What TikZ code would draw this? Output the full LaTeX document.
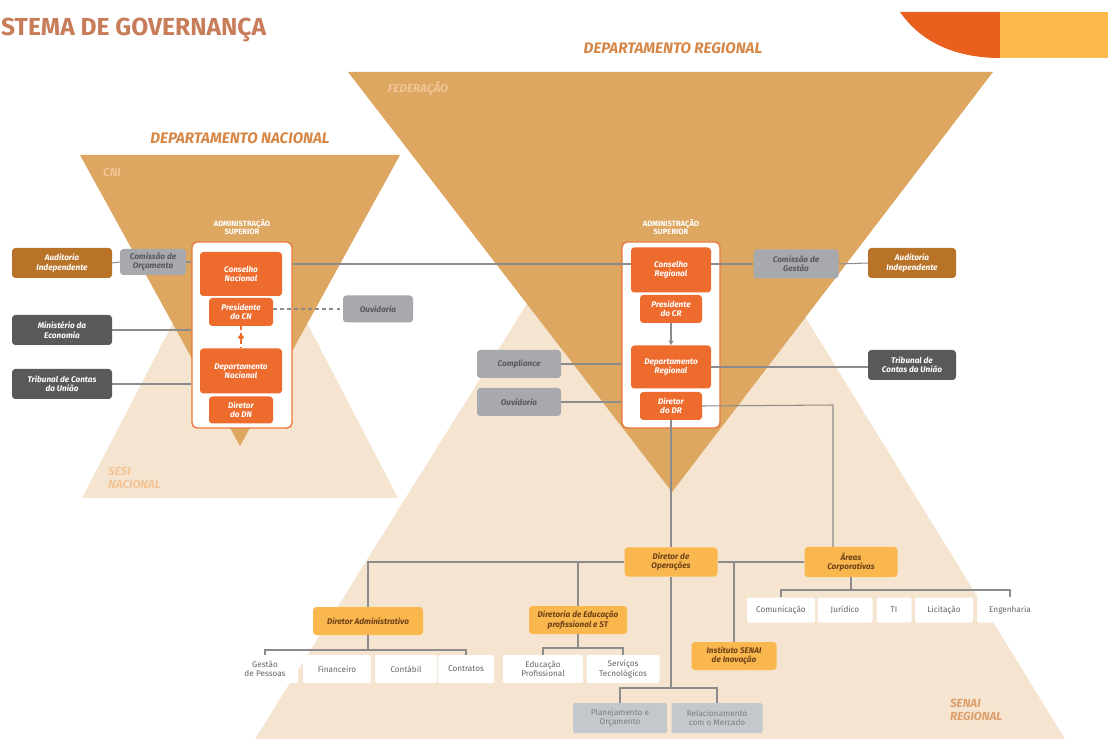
\documentclass[tikz,border=0pt]{standalone}
\usepackage{fontspec}
\setmainfont{Fira Sans}
\usepackage{tikz}
\usetikzlibrary{arrows.meta,shapes.geometric,positioning}

\definecolor{tanFed}{RGB}{221,167,98}
\definecolor{beigeSenai}{RGB}{245,229,208}
\definecolor{orBox}{RGB}{238,107,46}
\definecolor{orLine}{RGB}{232,120,60}
\definecolor{yelBox}{RGB}{250,183,78}
\definecolor{grayBox}{RGB}{167,169,172}
\definecolor{darkBox}{RGB}{88,89,91}
\definecolor{brownBox}{RGB}{185,115,40}
\definecolor{lineGray}{RGB}{140,140,140}
\definecolor{txtGray}{RGB}{100,100,104}
\definecolor{titleCol}{RGB}{200,125,90}
\definecolor{lblCol}{RGB}{214,135,70}
\definecolor{lightLbl}{RGB}{242,196,150}
\definecolor{topOrange}{RGB}{233,96,30}
\definecolor{topYellow}{RGB}{251,185,75}
\definecolor{fadeBox}{RGB}{195,200,204}
\definecolor{fadeTxt}{RGB}{120,126,132}
\definecolor{brownTxt}{RGB}{110,65,25}

\newcommand{\orgfont}{\fontsize{7}{8}\selectfont}

\tikzset{
sz/.style 2 args={minimum width=#1*0.03cm, minimum height=#2*0.03cm}, % box size in pixels
box/.style={rounded corners=0.1cm, inner sep=1pt, align=center, font=\orgfont},
orbox/.style={box, fill=orBox, text=white, font=\orgfont\bfseries\itshape}, % administration
yelbox/.style={box, fill=yelBox, text=brownTxt, font=\orgfont\bfseries\itshape}, % directors
graybox/.style={box, fill=grayBox, text=darkBox, font=\orgfont\bfseries\itshape},
darkbox/.style={box, fill=darkBox, text=white, font=\orgfont\bfseries\itshape},
brownbox/.style={box, fill=brownBox, text=white, font=\orgfont\bfseries\itshape},
whitebox/.style={box, fill=white, text=txtGray, rounded corners=0.05cm},
fadebox/.style={box, fill=fadeBox, text=fadeTxt, rounded corners=0.05cm},
admbox/.style={draw=orLine, line width=1.2pt, fill=white, rounded corners=0.15cm},
admlbl/.style={text=white, align=center, font=\fontsize{6.5}{7}\selectfont\bfseries},
biglbl/.style={font=\fontsize{13}{14}\selectfont\bfseries\itshape},
sidelbl/.style={align=left, font=\fontsize{10}{11.5}\selectfont\bfseries\itshape},
link/.style={draw=lineGray, line width=0.9pt}
}

\begin{document}
\begin{tikzpicture}[x=0.03cm, y=-0.03cm]
    \useasboundingbox (0,0) rectangle (1108,739);
    % background triangles
    \fill[beigeSenai] (240,194) -- (398,498) -- (82,498) -- cycle;
    \fill[tanFed] (80,155) -- (400,155) -- (240,446) -- cycle;
    \fill[beigeSenai] (663,86) -- (1065,739) -- (255,739) -- cycle;
    \fill[tanFed] (348,72) -- (993,72) -- (672,492) -- cycle;
    % top right band
    \fill[topOrange] (900,12) .. controls (925,48) and (965,58) .. (1000,58) -- (1000,12) -- cycle;
    \fill[topYellow] (1000,12) rectangle (1108,58);

    % titles
    \node[anchor=west, text=titleCol, font=\fontsize{21}{23}\selectfont\bfseries] (title) at (-3,30) {STEMA DE GOVERNANÇA};
    \node[biglbl, text=lblCol] (lblDR) at (673,48) {DEPARTAMENTO REGIONAL};
    \node[biglbl, text=lblCol] (lblDN) at (240,138) {DEPARTAMENTO NACIONAL};
    \node[sidelbl, text=lightLbl] (lblFed) at (418,89) {FEDERAÇÃO};
    \node[sidelbl, text=lightLbl] (lblCNI) at (112,172) {CNI};
    \node[sidelbl, anchor=west, text=lightLbl] (lblSesi) at (104,478) {SESI\\NACIONAL};
    \node[sidelbl, anchor=west, text=lblCol!80] (lblSenai) at (946,710) {SENAI\\REGIONAL};

    % departamento nacional
    \node[admbox, sz={100}{186}] (admN) at (242,335) {};
    \node[admlbl, above=0.08cm of admN] (admNlbl) {ADMINISTRAÇÃO\\SUPERIOR};
    \node[orbox, sz={82}{44}] (consN) at (241,274) {Conselho\\Nacional};
    \node[orbox, sz={64}{28}] (presN) at (241,312) {Presidente\\do CN};
    \node[orbox, sz={82}{45}] (deptN) at (241,371) {Departamento\\Nacional};
    \node[orbox, sz={64}{27}] (dirN) at (241,410) {Diretor\\do DN};
    \node[brownbox, sz={100}{30}] (audN) at (62,263) {Auditoria\\Independente};
    \node[graybox, sz={66}{26}] (consOrc) at (153,262) {Comissão de\\Orçamento};
    \node[darkbox, sz={100}{30}] (minEco) at (62,330) {Ministério da\\Economia};
    \node[darkbox, sz={100}{30}] (tcuN) at (62,384) {Tribunal de Contas\\da União};
    \node[graybox, sz={70}{27}] (ouvN) at (378,309) {Ouvidoria};

    % departamento regional
    \node[admbox, sz={98}{186}] (admR) at (671,335) {};
    \node[admlbl, above=0.08cm of admR] (admRlbl) {ADMINISTRAÇÃO\\SUPERIOR};
    \node[orbox, sz={80}{45}] (consR) at (671,270) {Conselho\\Regional};
    \node[orbox, sz={62}{28}] (presR) at (671,309) {Presidente\\do CR};
    \node[orbox, sz={80}{43}] (deptR) at (671,367) {Departamento\\Regional};
    \node[orbox, sz={62}{28}] (dirR) at (671,406) {Diretor\\do DR};
    \node[graybox, sz={85}{29}] (gestR) at (796,264) {Comissão de\\Gestão};
    \node[brownbox, sz={88}{30}] (audR) at (912,263) {Auditoria\\Independente};
    \node[darkbox, sz={88}{30}] (tcuR) at (912,365) {Tribunal de\\Contas da União};
    \node[graybox, sz={84}{28}] (compl) at (519,364) {Compliance};
    \node[graybox, sz={84}{28}] (ouvR) at (519,402) {Ouvidoria};

    % senai regional
    \node[yelbox, sz={93}{29}] (dirOp) at (671,562) {Diretor de\\Operações};
    \node[yelbox, sz={93}{30}] (areas) at (851,562) {Áreas\\Corporativas};
    \node[yelbox, sz={110}{28}] (dirAdm) at (368,621) {Diretor Administrativo};
    \node[yelbox, sz={98}{28}] (dirEdu) at (578,620) {Diretoria de Educação\\profissional e ST};
    \node[yelbox, sz={85}{28}] (inst) at (734,656) {Instituto SENAI\\de Inovação};
    \node[whitebox, sz={66}{28}] (gp) at (265,669) {Gestão\\de Pessoas};
    \node[whitebox, sz={68}{28}] (fin) at (337,669) {Financeiro};
    \node[whitebox, sz={62}{28}] (cont) at (406,669) {Contábil};
    \node[whitebox, sz={56}{28}] (contr) at (466,669) {Contratos};
    \node[whitebox, sz={80}{28}] (eduP) at (543,669) {Educação\\Profissional};
    \node[whitebox, sz={73}{28}] (serv) at (623,669) {Serviços\\Tecnológicos};
    \node[whitebox, sz={68}{25}] (com) at (781,610) {Comunicação};
    \node[whitebox, sz={55}{25}] (jur) at (845,610) {Jurídico};
    \node[whitebox, sz={35}{25}] (ti) at (894,610) {TI};
    \node[whitebox, sz={58}{25}] (lic) at (944,610) {Licitação};
    \node[whitebox, sz={66}{25}] (eng) at (1010,610) {Engenharia};
    \node[fadebox, sz={94}{30}] (plan) at (620,718) {Planejamento e\\Orçamento};
    \node[fadebox, sz={91}{30}] (rel) at (717,718) {Relacionamento\\com o Mercado};

    % connectors, nacional
    \draw[link] (audN.east) -- (consOrc.west);
    \draw[link] (consOrc.east) -- (consOrc.east -| admN.west);
    \draw[link] (minEco.east) -- (minEco.east -| admN.west);
    \draw[link] (tcuN.east) -- (tcuN.east -| admN.west);
    \draw[link, dashed] (presN.east |- ouvN.west) -- (ouvN.west);
    \draw[link, draw=orBox, dashed] (presN.south) -- (deptN.north)
        node[midway, diamond, fill=orBox, inner sep=0pt, minimum size=0.2cm] (dia) {};
    \draw[link] (admN.east |- gestR.west) -- (consR.west |- gestR.west);
    % connectors, regional
    \draw[link] (consR.east |- gestR.west) -- (gestR.west);
    \draw[link] (gestR.east) -- (audR.west);
    \draw[link] (deptR.east) -- (deptR.east -| tcuR.west);
    \draw[link] (compl.east) -- (compl.east -| admR.west);
    \draw[link] (ouvR.east) -- (ouvR.east -| admR.west);
    \draw[link, -{Triangle[length=4pt, width=4pt]}] (presR.south) -- (deptR.north);
    \draw[link] (dirR.south) -- (dirOp.north);
    \coordinate (kneeA) at (833,405);
    \draw[link] (dirR.east) -- (kneeA) -- (kneeA |- areas.north);
    \draw[link] (dirOp.east) -- (areas.west);
    \draw[link] (dirOp.west) -| (dirAdm.north);
    \draw[link] (dirEdu.north |- dirOp.west) -- (dirEdu.north);
    \draw[link] (inst.north |- dirOp.east) -- (inst.north);
    \coordinate (jOp) at (671,688);
    \draw[link] (dirOp.south) -- (jOp);
    \draw[link] (plan.north) |- (jOp) -| (rel.north);
    \coordinate (jAdm) at (368,650);
    \draw[link] (dirAdm.south) -- (jAdm);
    \draw[link] (gp.north) |- (jAdm) -| (contr.north);
    \coordinate (jEdu) at (578,648);
    \draw[link] (dirEdu.south) -- (jEdu);
    \draw[link] (eduP.north) |- (jEdu) -| (serv.north);
    \coordinate (jAr) at (851,590);
    \draw[link] (areas.south) -- (jAr);
    \draw[link] (com.north) |- (jAr) -| (eng.north);
\end{tikzpicture}
\end{document}
